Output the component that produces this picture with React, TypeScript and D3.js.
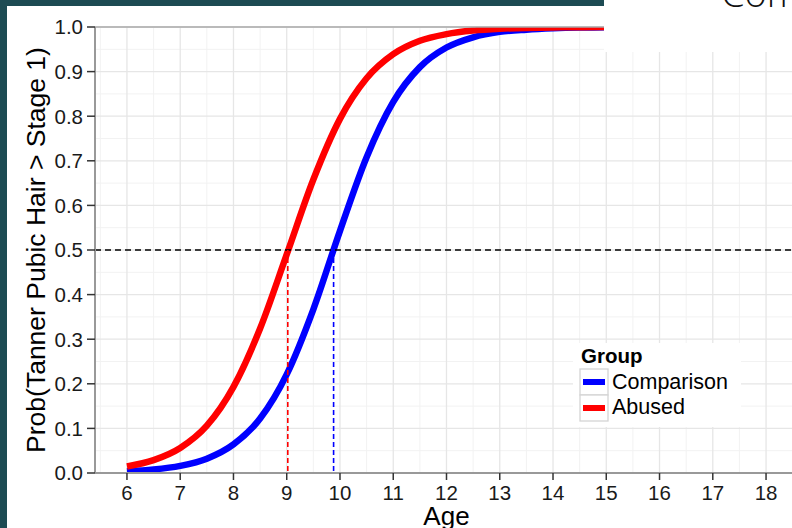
import React from "react";
import * as d3 from "d3";

const ages = [6, 6.5, 7, 7.5, 8, 8.5, 9, 9.5, 10, 10.5, 11, 11.5, 12, 12.5, 13, 13.5, 14, 14.5, 15, 16, 17, 18];
const comparison = [0.0039, 0.0079, 0.016, 0.032, 0.064, 0.122, 0.221, 0.367, 0.543, 0.708, 0.832, 0.91, 0.954, 0.977, 0.989, 0.994, 0.997, 0.9987, 0.9994, 0.9999, 1.0, 1.0];
const abused = [0.0146, 0.0288, 0.056, 0.106, 0.193, 0.324, 0.49, 0.658, 0.794, 0.885, 0.939, 0.969, 0.984, 0.992, 0.996, 0.998, 0.999, 0.9995, 0.9998, 1.0, 1.0, 1.0];
const groups = ["Comparison", "Abused"];
const groupColors = ["#0000ff", "#ff0000"];
const medianAges = [9.88, 9.02];
const xTicks = [6, 7, 8, 9, 10, 11, 12, 13, 14, 15, 16, 17, 18];
const yTicks = [0, 0.1, 0.2, 0.3, 0.4, 0.5, 0.6, 0.7, 0.8, 0.9, 1.0];
const xTitle = "Age";
const yTitle = "Prob(Tanner Pubic Hair > Stage 1)";
const legendTitle = "Group";
const slideTitle = "Comparison";

const W = 792;
const H = 528;
const FONT = "'Liberation Sans', Arial, Helvetica, sans-serif";

export default function App() {
  const x = d3.scaleLinear().domain([5.4, 18.6]).range([95, 798]);
  const y = d3.scaleLinear().domain([0, 1]).range([473, 27]);
  const pl = 95, pr = 798, pt = 27, pb = 473;

  const line = d3
    .line<number>()
    .x((_, i) => x(ages[i]))
    .y((d) => y(d))
    .curve(d3.curveMonotoneX);

  const minorX = d3.range(5.5, 18.6, 1);
  const minorY = d3.range(0.05, 1, 0.1);
  const series = [comparison, abused];

  return (
    <svg width={W} height={H} style={{ position: "absolute", left: 0, top: 0, background: "#fff" }} fontFamily={FONT}>
      <defs>
        <clipPath id="panel">
          <rect x={pl} y={pt} width={pr - pl} height={pb - pt} />
        </clipPath>
      </defs>
      <rect x={0} y={0} width={W} height={H} fill="#fff" />
      {/* gridlines */}
      <g>
        {minorX.map((v) => (
          <line key={"mx" + v} x1={x(v)} x2={x(v)} y1={pt} y2={pb} stroke="#f2f2f2" strokeWidth={1} />
        ))}
        {minorY.map((v) => (
          <line key={"my" + v} x1={pl} x2={pr} y1={y(v)} y2={y(v)} stroke="#f2f2f2" strokeWidth={1} />
        ))}
        {xTicks.map((v) => (
          <line key={"gx" + v} x1={x(v)} x2={x(v)} y1={pt} y2={pb} stroke="#e6e6e6" strokeWidth={1.3} />
        ))}
        {yTicks.map((v) => (
          <line key={"gy" + v} x1={pl} x2={pr} y1={y(v)} y2={y(v)} stroke="#e6e6e6" strokeWidth={1.3} />
        ))}
      </g>
      {/* curves */}
      <g clipPath="url(#panel)">
        {series.map((s, i) => (
          <path key={groups[i]} d={line(s) || ""} fill="none" stroke={groupColors[i]} strokeWidth={6.5} />
        ))}
      </g>
      {/* dashed reference lines */}
      <line x1={pl} x2={W} y1={y(0.5)} y2={y(0.5)} stroke="#000" strokeWidth={1.5} strokeDasharray="6,4" />
      {medianAges.map((m, i) => (
        <line key={"v" + i} x1={x(m)} x2={x(m)} y1={y(0.5)} y2={y(0)} stroke={groupColors[i]} strokeWidth={1.6} strokeDasharray="5,3" />
      ))}
      {/* panel border / axes */}
      <line x1={pl} x2={pr} y1={pt} y2={pt} stroke="#aaaaaa" strokeWidth={1.5} />
      <line x1={pl} x2={pl} y1={pt} y2={pb} stroke="#999999" strokeWidth={2} />
      <line x1={pl} x2={pr} y1={pb} y2={pb} stroke="#999999" strokeWidth={2} />
      {/* y ticks */}
      {yTicks.map((v) => (
        <g key={"yt" + v}>
          <line x1={pl - 8} x2={pl} y1={y(v)} y2={y(v)} stroke="#333" strokeWidth={1.5} />
          <text x={pl - 12} y={y(v)} dy="0.36em" textAnchor="end" fontSize={20.5} fill="#1a1a1a">
            {d3.format(".1f")(v)}
          </text>
        </g>
      ))}
      {/* x ticks */}
      {xTicks.map((v) => (
        <g key={"xt" + v}>
          <line x1={x(v)} x2={x(v)} y1={pb} y2={pb + 7} stroke="#333" strokeWidth={1.5} />
          <text x={x(v)} y={500} textAnchor="middle" fontSize={20.5} fill="#1a1a1a">
            {v}
          </text>
        </g>
      ))}
      {/* axis titles */}
      <text x={(pl + pr) / 2} y={525} textAnchor="middle" fontSize={26} fill="#000">
        {xTitle}
      </text>
      <text transform={`translate(45,${(pt + pb) / 2}) rotate(-90)`} textAnchor="middle" fontSize={26.5} fill="#000">
        {yTitle}
      </text>
      {/* legend */}
      <g>
        <rect x={573} y={343} width={168} height={84} fill="#fff" />
        <text x={581} y={363} fontSize={20.5} fontWeight="bold" fill="#000">
          {legendTitle}
        </text>
        {groups.map((g, i) => (
          <g key={"lg" + g}>
            <rect x={580} y={369 + i * 26} width={28} height={26} fill="#fff" stroke="#d4d4d4" strokeWidth={1.3} />
            <line x1={583} x2={605} y1={382 + i * 26} y2={382 + i * 26} stroke={groupColors[i]} strokeWidth={6} />
            <text x={612} y={389 + i * 24.5} fontSize={21.5} fill="#000">
              {g}
            </text>
          </g>
        ))}
      </g>
      {/* slide frame */}
      <rect x={604} y={0} width={W - 604} height={52} fill="#fff" />
      <rect x={0} y={0} width={604} height={6} fill="#1d4b53" />
      <rect x={0} y={0} width={7} height={H} fill="#1d4b53" />
      <text x={721} y={7} fontSize={38} fontFamily="'Open Sans', 'DejaVu Sans', sans-serif" fontWeight={300} fill="#111">
        {slideTitle}
      </text>
    </svg>
  );
}
